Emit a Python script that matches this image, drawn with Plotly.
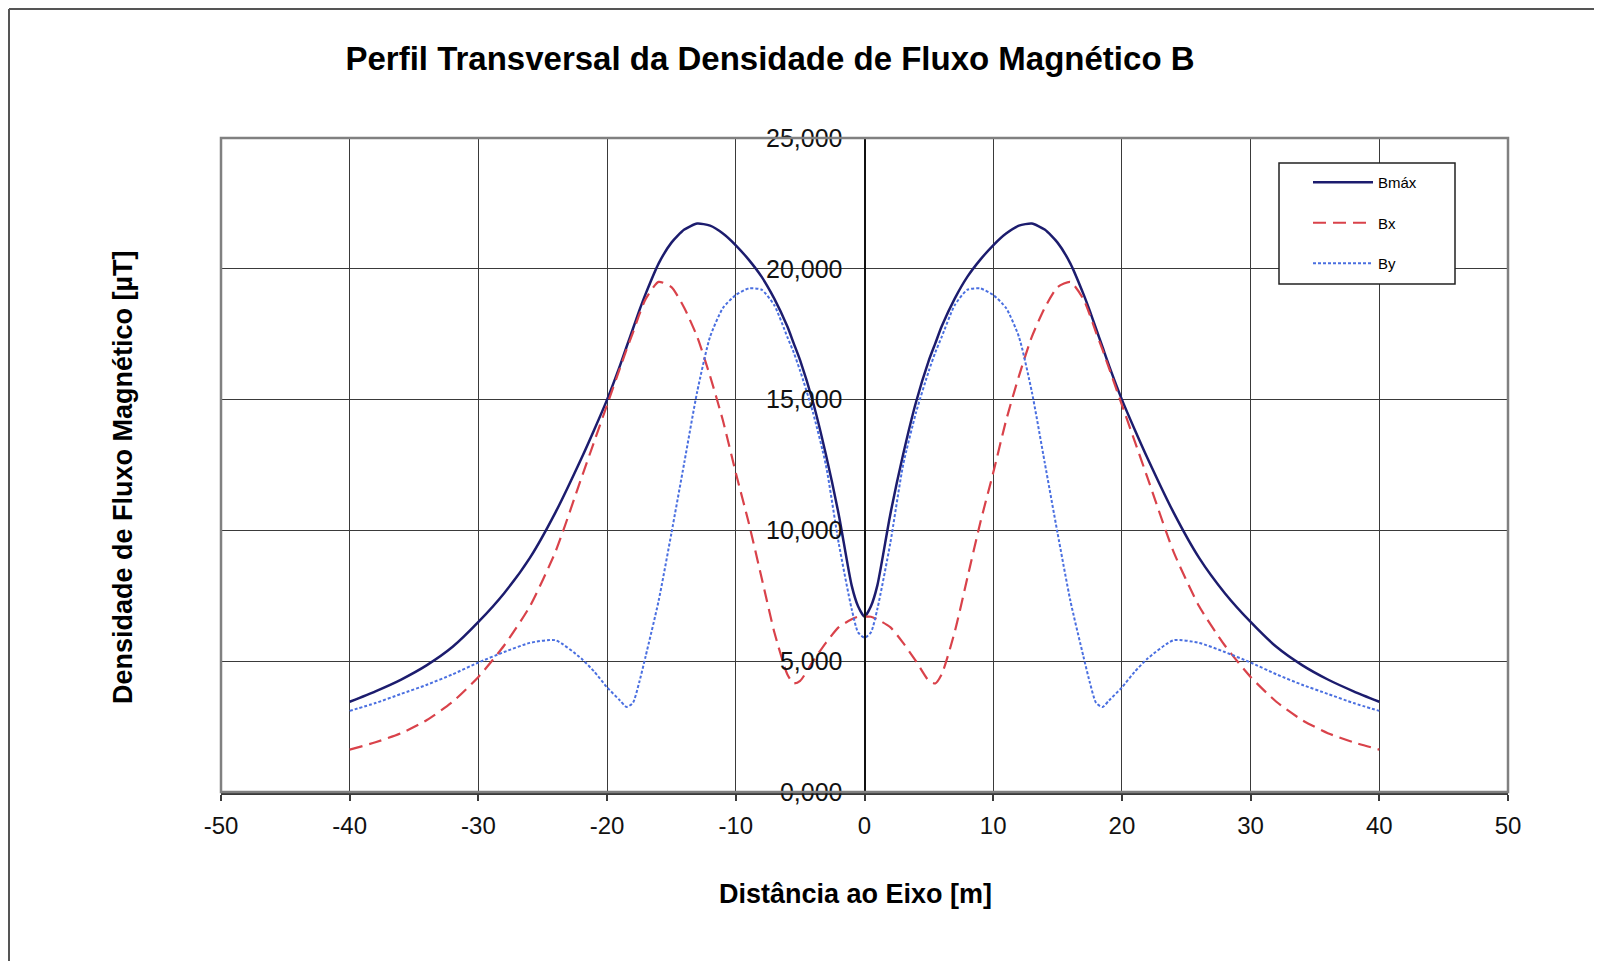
import plotly.graph_objects as go

# distance to axis [m]
dist = [-40, -38, -36, -34, -32, -30, -28, -26, -24, -22, -21, -20, -19, -18.5, -18, -17.5,
        -17, -16, -15, -14, -13, -12, -11, -10, -9, -8, -7, -6, -5.5, -5, -4, -3, -2, -1, -0.5,
        0,
        0.5, 1, 2, 3, 4, 5, 5.5, 6, 7, 8, 9, 10, 11, 12, 13, 14, 15, 16, 17,
        17.5, 18, 18.5, 19, 20, 21, 22, 24, 26, 28, 30, 32, 34, 36, 38, 40]

b_max = [3.45, 3.85, 4.3, 4.85, 5.55, 6.5, 7.6, 8.95, 10.7, 12.75, 13.85, 15.0, 16.3, 17.0, 17.7, 18.4,
         19.05, 20.2, 21.0, 21.5, 21.73, 21.65, 21.35, 20.9, 20.35, 19.7, 18.85, 17.8, 17.15, 16.5, 14.9, 12.9, 10.6, 7.9, 7.1,
         6.7,
         7.1, 7.9, 10.6, 12.9, 14.9, 16.5, 17.15, 17.8, 18.85, 19.7, 20.35, 20.9, 21.35, 21.65, 21.73, 21.5, 21.0, 20.2, 19.05,
         18.4, 17.7, 17.0, 16.3, 15.0, 13.85, 12.75, 10.7, 8.95, 7.6, 6.5, 5.55, 4.85, 4.3, 3.85, 3.45]

b_x = [1.62, 1.9, 2.25, 2.75, 3.45, 4.4, 5.6, 7.1, 9.2, 12.0, 13.4, 14.8, 16.2, 16.9, 17.55, 18.25,
       18.85, 19.5, 19.3, 18.5, 17.4, 15.9, 14.2, 12.2, 10.3, 8.2, 6.1, 4.5, 4.15, 4.25, 5.0, 5.7, 6.3, 6.6, 6.7,
       6.7,
       6.7, 6.6, 6.3, 5.7, 5.0, 4.25, 4.15, 4.5, 6.1, 8.2, 10.3, 12.2, 14.2, 15.9, 17.4, 18.5, 19.3, 19.5, 18.85,
       18.25, 17.55, 16.9, 16.2, 14.8, 13.4, 12.0, 9.2, 7.1, 5.6, 4.4, 3.45, 2.75, 2.25, 1.9, 1.62]

b_y = [3.1, 3.4, 3.75, 4.1, 4.5, 4.95, 5.35, 5.7, 5.8, 5.1, 4.6, 4.0, 3.5, 3.25, 3.4, 4.2,
       5.2, 7.3, 9.9, 12.6, 15.3, 17.4, 18.5, 19.0, 19.25, 19.2, 18.6, 17.4, 16.8, 16.1, 14.5, 12.5, 9.5, 7.0, 6.1,
       5.9,
       6.1, 7.0, 9.5, 12.5, 14.5, 16.1, 16.8, 17.4, 18.6, 19.2, 19.25, 19.0, 18.5, 17.4, 15.3, 12.6, 9.9, 7.3, 5.2,
       4.2, 3.4, 3.25, 3.5, 4.0, 4.6, 5.1, 5.8, 5.7, 5.35, 4.95, 4.5, 4.1, 3.75, 3.4, 3.1]

x_ticks = [-50, -40, -30, -20, -10, 0, 10, 20, 30, 40, 50]
x_tick_text = ["-50", "-40", "-30", "-20", "-10", "0", "10", "20", "30", "40", "50"]

OFF = 8  # page body margin
W, H = 1602 - 2 * OFF, 969 - 2 * OFF
L, T = 221 - OFF, 138 - OFF
R = W - (1508 - OFF)
B = H - (792 - OFF)
pw, ph = W - L - R, H - T - B

def px(x):
    # page x pixel -> paper coordinate
    return (x - OFF - L) / pw

def py(y):
    # page y pixel -> paper coordinate
    return (H - B - (y - OFF)) / ph

font = "Liberation Sans, Arial, sans-serif"

fig = go.Figure()
fig.add_trace(go.Scatter(x=dist, y=b_max, name="Bmáx", mode="lines",
                         line=dict(color="#1c1c6e", width=2.5, shape="spline", smoothing=0.6),
                         legendgroup="a"))
fig.add_trace(go.Scatter(x=dist, y=b_x, name="Bx", mode="lines",
                         line=dict(color="#d9424a", width=2.2, dash="13px,7px", shape="spline", smoothing=0.6),
                         legendgroup="b"))
fig.add_trace(go.Scatter(x=dist, y=b_y, name="By", mode="lines",
                         line=dict(color="#4a6fe0", width=2, dash="3px,2px", shape="spline", smoothing=0.6),
                         legendgroup="c"))

shapes = [
    # plot area frame
    dict(type="rect", xref="paper", yref="paper", x0=0, x1=1, y0=0, y1=1,
         line=dict(color="#808080", width=2.5), layer="above"),
    # outer frame (only top/left visible)
    dict(type="line", xref="paper", yref="paper", x0=px(9), x1=px(1700), y0=py(9), y1=py(9),
         line=dict(color="#555555", width=2)),
    dict(type="line", xref="paper", yref="paper", x0=px(9), x1=px(9), y0=py(9), y1=py(1100),
         line=dict(color="#555555", width=2)),
    # legend box
    dict(type="rect", xref="paper", yref="paper", x0=px(1279), x1=px(1455), y0=py(284), y1=py(163),
         line=dict(color="#222222", width=1.5), fillcolor="white", layer="above"),
]

fig.update_layout(
    width=W, height=H,
    margin=dict(l=L, r=R, t=T, b=B),
    paper_bgcolor="white", plot_bgcolor="white",
    separators=",.",
    font=dict(family=font, color="#111111"),
    title=dict(text="<b>Perfil Transversal da Densidade de Fluxo Magnético B</b>",
               x=px(770), xref="paper", xanchor="center",
               y=1 - (58 - OFF) / H, yanchor="middle", font=dict(size=33, color="#000000")),
    showlegend=True,
    legend=dict(x=px(1308), y=py(166), xanchor="left", yanchor="top",
                bgcolor="rgba(0,0,0,0)", borderwidth=0, itemwidth=60,
                tracegroupgap=18, font=dict(size=15, color="#000000")),
    shapes=shapes,
    annotations=[
        dict(text="<b>Densidade de Fluxo Magnético [µT]</b>", xref="paper", yref="paper",
             x=px(123), y=py(477), textangle=-90, showarrow=False,
             xanchor="center", yanchor="middle", font=dict(size=27, color="#000000")),
        dict(text="<b>Distância ao Eixo [m]</b>", xref="paper", yref="paper",
             x=px(855), y=py(894), showarrow=False,
             xanchor="center", yanchor="middle", font=dict(size=27, color="#000000")),
    ],
)

fig.update_xaxes(range=[-50, 50], tickvals=x_ticks, ticktext=x_tick_text,
                 showgrid=True, gridcolor="#3a3a3a", gridwidth=1,
                 zeroline=False, showline=True, linecolor="#3a3a3a", linewidth=2.5,
                 ticks="outside", ticklen=6, tickcolor="#3a3a3a", tickwidth=2,
                 ticklabelstandoff=4, tickfont=dict(size=24, color="#111111"))
fig.update_yaxes(range=[0, 25], dtick=5, tickformat=".3f",
                 anchor="free", position=0.5,
                 showgrid=True, gridcolor="#3a3a3a", gridwidth=1,
                 zeroline=False, showline=True, linecolor="#111111", linewidth=2,
                 ticks="", ticklabelstandoff=16,
                 tickfont=dict(size=25, color="#111111"))

fig.write_html("out.html")
